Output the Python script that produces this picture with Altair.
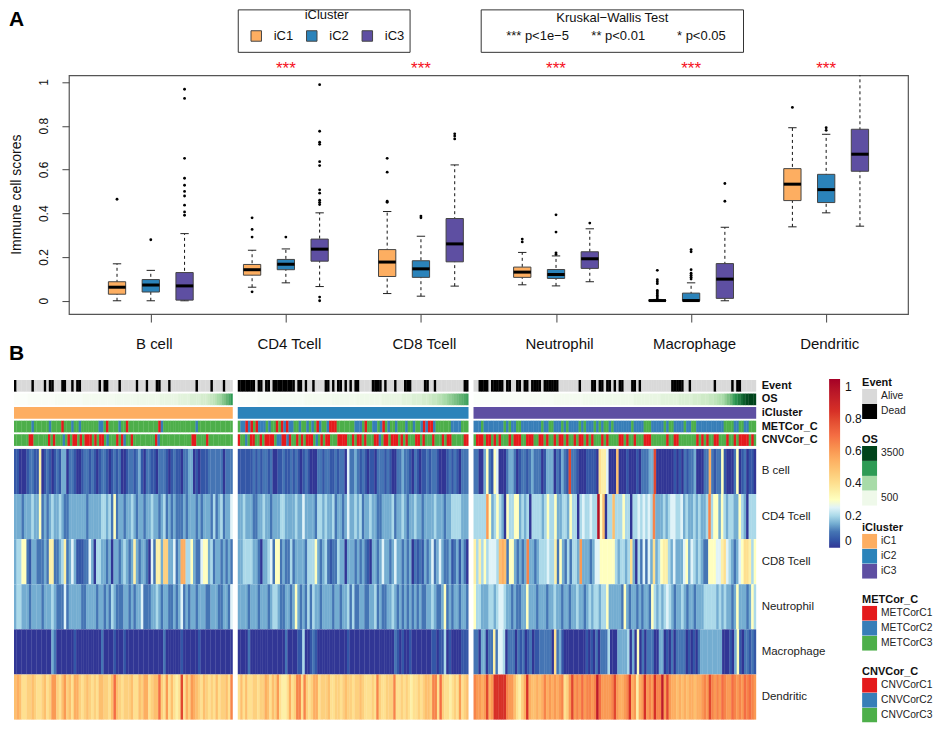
import altair as alt
import pandas as pd

FONT = "Liberation Sans"
CELLS = ["B cell", "CD4 Tcell", "CD8 Tcell", "Neutrophil", "Macrophage", "Dendritic"]
CLUSTERS = ["iC1", "iC2", "iC3"]
CLUSTER_COLORS = ["#fdae61", "#2b83ba", "#5e4fa2"]
SIGNIF = ["", "***", "***", "***", "***", "***"]

# whisker low, q1, median, q3, whisker high per cell type (rows) and cluster
BOX_LO = [[0, 0, 0], [.062, .082, .065], [.033, .021, .067], [.073, .068, .087], [0, 0, 0], [.338, .402, .341]]
BOX_Q1 = [[.03, .04, .003], [.117, .142, .181], [.111, .107, .178], [.107, .102, .148], [0, 0, .011], [.458, .449, .592]]
BOX_MED = [[.062, .072, .068], [.142, .167, .236], [.177, .146, .26], [.131, .12, .192], [.001, .001, .099], [.533, .508, .67]]
BOX_Q3 = [[.087, .097, .129], [.166, .189, .282], [.234, .183, .376], [.154, .143, .224], [.003, .035, .17], [.604, .578, .784]]
BOX_HI = [[.169, .139, .307], [.231, .237, .402], [.408, .295, .621], [.221, .205, .329], [.006, .082, .336], [.791, .761, 1.1]]
OUTLIERS = [
    [[.464], [.279], [.967, .925, .651, .56, .528, .5, .479, .437, .406, .391]],
    [[.379, .326, .291, .041], [.291], [.988, .775, .725, .715, .636, .618, .507, .492, .46, .45, .44, .017, 0]],
    [[.651, .588, .455, .45], [.387, .379], [.763, .753, .74]],
    [[.282, .269], [.393, .314, .219, .212], [.355]],
    [[.139, .096, .087, .078, .047, .04, .032, .024, .017, .009], [.234, .224, .142, .126, .117, .108, .099], [.536, .455]],
    [[.884], [.791, .779], []],
]

TRACKS = ["Event", "OS", "iCluster", "METCor_C", "CNVCor_C"]
# 1 = dead, 0 = alive
EVENT = [
    "1 000000 1 0000 1 0 11 000 11 00 1 0 11 0000000 1 0 11 0000 1 000000 1 000 1 000 11 000 1 0000000000 1 00000 1 0000 1 000",
    "1111111 0 11 0 11 0 111111111 0 11 0 1 00 1 0000 11 0 1 0 11 0 1 0 1 0 11 00000 1111 0 1 00 0 1 000 111 00000 11 00 1 0000000000 0 11",
    "00 1111 0 11111 0 11 00 11 0 11 0 1111 0 111111 00000000 1 0000 11 0 11 0 11 0 1 0 11 000 11 0 1 000000000000 11111 00 1 000000000 1 000000 1 0 11 000000",
]
# OS in hundreds of days, base 36
OS = [
    "0000001111 1111111122 2222222222 3333333333 3333444444 4444555555 5555666666 6677777888 88999abcdfgijlnp",
    "0000000011 1111111222 2222222333 3333333344 4444444455 5555555566 6666667777 8888999abb cdefghijkl mno",
    "0000000000 1111111111 1222222222 3333333333 3444444444 4555555555 6666666666 7777777888 88999aaabb cdefhjloqs uwy zzz",
]
MET = [
    "ggggggg b gggggg b gggg r ggg b gg b ggggggg bb g r gggg b gg r gggggggggggg rb ggggggggggggg b gggggggggggggg",
    "gbbrbrgrbb bgbggrgrbr bbggbggbgb grbggbrrrg ggggggbbbg rggbbgbrgb ggbgggbggb ggbrbrrbggg gggbbbbggg",
    "bbb g bbbbbbbb g b g bb gg bbbbbbbb g bb gg bbb g b g bbbb g b g bbb g b g b gg b g bbbbbbb g bbbb ggg bbbbb g b gg bbbb g bb gg bbbbbbbbbbb gggg bb gg bb ggg",
]
CNV = [
    "gggggg rr gggggg r g r ggg b g r g rr g r g rrr g r g rr g b ggg r g r b gg r ggggggggg r b ggggggggggggg rr gggg r gggggggggg",
    "r gg b g rr gg r g rrrr gb b r r b r gg r g r g rrr gb g r g rr ggg rrrr gg r g rr g r ggg rr b g rr g rrr g r g r ggg rr g r ggg r ggg r g rr ggggg rr",
    "g rrr g rr g r g r ggg r g rrr gg rrr gg rr g r gg r g rr g r gg r g rr g r g r ggg r g r gggg rr g r gg r ggg rrr gggggg r gg rr ggggggg r g r g r gg rr ggg r gg r g rrrr g r g",
]

HEAT_ROWS = ["B cell", "CD4 Tcell", "CD8 Tcell", "Neutrophil", "Macrophage", "Dendritic"]
# each character is one patient column: base-36 level, 1 level = 0.05 score
BLOCK1 = [
    "1100012211 7012101213 3022100122 1210122101 2120012212 3102211022 2101211022 3301011122 22220222",
    "3332333433 6232343343 2233333332 3333344342 6233233432 3323343323 4232322232 3332323332 42342335",
    "3446621332 2232772234 7235311122 5304433230 3323432373 2332052773 9933523bb4 4632256634 23323232",
    "3443332333 3233343222 5233333223 3332332324 3222332323 3522233432 3322323523 2332333223 33223325",
    "0000000000 0000032000 0000100000 0000020000 1000100000 0000000000 2000000100 0000100000 00000000",
    "aba8899a98 89a89cc98a c9a8bb989a 9898aa998a ea98999a88 a9bb89aae9 8c8a878g8b 9cba98a989 8a899a8d",
]
BLOCK2 = [
    "1111112121 2212001121 1212101210 0022122112 1220522321 2101102221 2100223221 0210112122 1000121210 222",
    "3343332233 4332333443 3334335333 3244343342 3323533434 2334332233 3342334323 3433233334 3332334444 333",
    "3344443320 3345266232 2423333244 4632342122 4330333232 3210332353 3235332323 0212132352 3532231231 320",
    "3333233323 3323443223 3236323242 4332333323 3233424223 3223342322 3343232323 2323223343 2236232332 332",
    "0000200000 0000000002 0000114001 2100000000 0000100000 0000000000 0002101001 0000000011 0114010000 111",
    "8a8a889989 9ba8a9c877 8b89dd8d98 9bb8999a88 9989a99899 a988898d98 8999d88989 8788989aa9 dd8e98878 98c 89a",
]
BLOCK3 = [
    "2200362165 0002332012 2123222013 3302132 1g2 2100011110 8775000a00 0100010222 33g0000000 1010212230 0022b21 2 26 1000260120 110",
    "4444 4c6346 4306446634 3404444 3 46 4463 3 44 3 6 4404 54 4544 k6a044 a444 64404 4545 4 5 4d3 3343 4 5 544 5 3 4 3 3 4 3 4 3 3 4 d 4 6 6 3 6 4 3 4 4 3 3 6 4 3 0 444",
    "7474645554 aba2663232 3d33234445 4472632424 43c3332355 6666664344 3483042 52 5383467743 533356 3543 4 322 6665 57 8 54 32 356 88 746",
    "6443334434 5543323223 3633323332 3343323323 3433234344 3446333332 6323323233 2643434543 2334323323 3344444343 4332363332 364",
    "2203302272 5540222021 2012011222 2 2082 31 00 00 00 0 0 0 1 0 1 0 2 0 2 2 2 4 0 0 0 3 3 3 3 4 0 3 0 6 0 2 0 2 2 2 0 0 3 3 0 1 0 2 0 2 2 2 2 0 1 0 1 0 2 3 3 3 3 3 3 3 3 3 0 0 0 1 0 3 6 1 0 2 2 1 2 1",
    "dccbcgbc hhhhh dcca879 bhbaababdb cbcbcd89cg cdcecddcdj ecccc dgcbb cdhbc7bchc dchddjcgcb babababbab bcdcgdcdce dccedcdced edc",
]
BLOCK_COLS = [91.25, 96.25, 117.9]
BLOCK_GAP = 2.08
TOTAL_COLS = sum(BLOCK_COLS) + 2 * BLOCK_GAP

HEAT_STOPS = [0, .1, .15, .2, .25, .3, .4, .55, .7, .85, 1.05]
HEAT_COLORS = ["#313695", "#4575b4", "#74add1", "#abd9e9", "#e0f3f8", "#ffffbf", "#fee090", "#fdae61", "#f46d43", "#d73027", "#a50026"]
OS_STOPS = [0, 500, 1500, 2500, 3500]
OS_COLORS = ["#fbfefa", "#eff9ea", "#a8dba8", "#2e9b55", "#00441b"]


def block_start(b):
    return sum(BLOCK_COLS[:b]) + b * BLOCK_GAP


def spans(text, b):
    s = text.replace(" ", "")
    start, cols, n = block_start(b), BLOCK_COLS[b], len(s)
    for i, ch in enumerate(s):
        x0 = start + cols * i / n
        x1 = start + cols * (i + 1) / n
        yield ch, x0, (x1 + 0.12 if i < n - 1 else x1)


def track_df(name, rows, conv):
    recs = []
    for b, text in enumerate(rows):
        for ch, x0, x1 in spans(text, b):
            recs.append({"track": name, "x0": x0, "x1": x1, "v": conv(ch)})
    return pd.DataFrame(recs)


# ---------- panel A ----------
box_recs, out_recs = [], []
for i in range(6):
    for c in range(3):
        pos = i + (c - 1) * 0.25
        box_recs.append({"pos": pos, "l": pos - .064, "r": pos + .064, "cl": pos - .031, "cr": pos + .031,
                         "cluster": CLUSTERS[c], "lo": BOX_LO[i][c], "q1": BOX_Q1[i][c], "med": BOX_MED[i][c],
                         "q3": BOX_Q3[i][c], "hi": BOX_HI[i][c]})
        for v in OUTLIERS[i][c]:
            out_recs.append({"pos": pos, "v": v})
box_df, out_df = pd.DataFrame(box_recs), pd.DataFrame(out_recs)
cat_df = pd.DataFrame({"pos": list(range(6)), "s": SIGNIF})

xs = alt.Scale(domain=[-.606, 5.606], nice=False, zero=False)
ys = alt.Scale(domain=[-.0607, 1.0306], nice=False, zero=False)
label_expr = "[" + ",".join(f"'{c}'" for c in CELLS) + "][datum.value]"

x_axis = alt.Axis(values=list(range(6)), labelExpr=label_expr, tickSize=8, tickColor="#444", domain=False,
                  grid=False, labelFontSize=15, labelPadding=14, labelOffset=3, labelColor="#111",
                  labelOverlap=False, labelFont=FONT, title=None)
y_axis = alt.Axis(values=[0, .2, .4, .6, .8, 1], format="~g", tickSize=7, tickColor="#444", domain=False,
                  grid=False, labelAngle=270, labelAlign="center", labelBaseline="bottom", labelFontSize=12,
                  labelPadding=11, labelColor="#111", title="Immune cell scores", titleFontSize=14,
                  titleFontWeight="normal", titleColor="#111", titleX=-45, titleY=119, titleFont=FONT, labelFont=FONT)


def bx(f):
    return alt.X(f, scale=xs, axis=x_axis)


def by(f):
    return alt.Y(f, scale=ys, axis=y_axis)


whisk = alt.Chart(box_df).mark_rule(strokeDash=[3, 3], color="#111", strokeWidth=1, clip=True).encode(
    x=bx("pos:Q"), y=by("lo:Q"), y2="hi:Q")
cap_lo = alt.Chart(box_df).mark_rule(color="#222", strokeWidth=1).encode(
    x=bx("cl:Q"), x2="cr:Q", y=by("lo:Q"))
cap_hi = alt.Chart(box_df[box_df.hi < 1]).mark_rule(color="#222", strokeWidth=1).encode(
    x=bx("cl:Q"), x2="cr:Q", y=by("hi:Q"))
rects = alt.Chart(box_df).mark_rect(stroke="#444", strokeWidth=1).encode(
    x=bx("l:Q"), x2="r:Q", y=by("q1:Q"), y2="q3:Q",
    fill=alt.Fill("cluster:N", scale=alt.Scale(domain=CLUSTERS, range=CLUSTER_COLORS), title="iCluster",
                  legend=alt.Legend(orient="none", legendX=181, legendY=-66, direction="horizontal", columns=3,
                                    symbolType="square", symbolSize=110, symbolStrokeColor="#444",
                                    symbolStrokeWidth=1, labelFontSize=13, titleFontSize=13,
                                    titleFontWeight="normal", titleAnchor="middle", titlePadding=7, labelOffset=11,
                                    columnPadding=10.6, padding=0, labelColor="#111", titleColor="#111",
                                    labelFont=FONT, titleFont=FONT)))
med = alt.Chart(box_df).mark_rule(color="black", strokeWidth=3).encode(
    x=bx("l:Q"), x2="r:Q", y=by("med:Q"))
pts = alt.Chart(out_df).mark_circle(size=8, color="black", opacity=1).encode(
    x=bx("pos:Q"), y=by("v:Q"))
stars = alt.Chart(cat_df).mark_text(color="#f5101c", fontSize=17, font=FONT, baseline="middle").encode(
    x=bx("pos:Q"), y=alt.value(-6), text="s:N")


def label(s, x, y, size=13, weight="normal", align="left", color="#111", baseline="middle"):
    return alt.Chart(pd.DataFrame({"t": [s]})).mark_text(
        font=FONT, fontSize=size, fontWeight=weight, align=align, baseline=baseline, color=color
    ).encode(x=alt.value(x), y=alt.value(y), text="t:N")


def outline(x, x2, y, y2):
    return alt.Chart(pd.DataFrame({"a": [0]})).mark_rect(fill="white", stroke="#333", strokeWidth=1).encode(
        x=alt.value(x), x2=alt.value(x2), y=alt.value(y), y2=alt.value(y2))


header = [
    outline(169.5, 341.5, -65.5, -23),
    outline(412.7, 675.3, -65.5, -23),
    label("A", -60, -66, 21, "bold", color="black", baseline="top"),
    label("Kruskal\u2212Wallis Test", 544, -57, 13, align="center"),
    label("*** p<1e\u22125", 437.7, -39),
    label("** p<0.01", 523, -39),
    label("* p<0.05", 608.7, -39),
]
box_panel = alt.layer(*header, whisk, cap_lo, cap_hi, rects, med, pts, stars).properties(
    width=840, height=239, view=alt.ViewBackground(stroke="#555", strokeWidth=1.2))

spacer = alt.Chart(pd.DataFrame({"a": [0]})).mark_point(opacity=0).encode(x=alt.value(0)).properties(width=688, height=60)

# ---------- panel B ----------
hx = alt.X("x0:Q", scale=alt.Scale(domain=[0, TOTAL_COLS], range=[-55, 688], nice=False, zero=False), axis=None)
ty = alt.Y("track:N", scale=alt.Scale(domain=TRACKS, paddingInner=.14, paddingOuter=0), title=None,
           axis=alt.Axis(orient="right", ticks=False, domain=False, labelFontSize=11, labelFontWeight="bold",
                         labelPadding=5, labelColor="#111", labelFont=FONT))


def sym_legend(y, **kw):
    return alt.Legend(orient="none", legendX=794, legendY=y, symbolType="square", symbolSize=225,
                      symbolStrokeWidth=0, rowPadding=0, padding=0, titlePadding=1, labelFontSize=10.3,
                      titleFontSize=11, titleFontWeight="bold", labelOffset=4, clipHeight=15, labelColor="#222",
                      titleColor="#111", labelFont=FONT, titleFont=FONT, **kw)


ev_df = track_df("Event", EVENT, lambda c: "Dead" if c == "1" else "Alive")
os_df = track_df("OS", OS, lambda c: int(c, 36) * 100)
ic_df = pd.DataFrame([{"track": "iCluster", "x0": block_start(b), "x1": block_start(b) + BLOCK_COLS[b], "v": CLUSTERS[b]} for b in range(3)])
met_names = {"r": "METCorC1", "b": "METCorC2", "g": "METCorC3"}
cnv_names = {"r": "CNVCorC1", "b": "CNVCorC2", "g": "CNVCorC3"}
met_df = track_df("METCor_C", MET, lambda c: met_names[c])
cnv_df = track_df("CNVCor_C", CNV, lambda c: cnv_names[c])

ev = alt.Chart(ev_df).mark_rect().encode(x=hx, x2="x1:Q", y=ty, color=alt.Color(
    "v:N", title="Event", scale=alt.Scale(domain=["Alive", "Dead"], range=["#d9d9d9", "#000000"]), legend=sym_legend(-3)))
osr = alt.Chart(os_df).mark_rect().encode(x=hx, x2="x1:Q", y=ty, color=alt.Color(
    "v:Q", title="OS", scale=alt.Scale(domain=OS_STOPS, range=OS_COLORS),
    legend=sym_legend(54, type="symbol", values=[3500, 2500, 1500, 500], format="d",
                      labelExpr="datum.value==3500||datum.value==500?datum.label:''")))
icr = alt.Chart(ic_df).mark_rect().encode(x=hx, x2="x1:Q", y=ty, color=alt.Color(
    "v:N", title="iCluster", scale=alt.Scale(domain=CLUSTERS, range=CLUSTER_COLORS), legend=sym_legend(142)))
metr = alt.Chart(met_df).mark_rect().encode(x=hx, x2="x1:Q", y=ty, color=alt.Color(
    "v:N", title="METCor_C", scale=alt.Scale(domain=list(met_names.values()), range=["#e41a1c", "#377eb8", "#4daf4a"]),
    legend=sym_legend(214)))
cnvr = alt.Chart(cnv_df).mark_rect().encode(x=hx, x2="x1:Q", y=ty, color=alt.Color(
    "v:N", title="CNVCor_C", scale=alt.Scale(domain=list(cnv_names.values()), range=["#e41a1c", "#377eb8", "#4daf4a"]),
    legend=sym_legend(286)))
tracks_panel = alt.layer(ev, osr, icr, metr, cnvr, label("B", -60, -26, 21, "bold", color="black")).resolve_scale(
    color="independent").properties(width=688, height=66)

recs = []
for b, rows in enumerate([BLOCK1, BLOCK2, BLOCK3]):
    for name, text in zip(HEAT_ROWS, rows):
        for ch, x0, x1 in spans(text, b):
            recs.append({"row": name, "x0": x0, "x1": x1, "v": int(ch, 36) * .05})
heat_df = pd.DataFrame(recs)
heat_panel = alt.Chart(heat_df).mark_rect().encode(
    x=hx, x2="x1:Q",
    y=alt.Y("row:N", scale=alt.Scale(domain=HEAT_ROWS, paddingInner=0, paddingOuter=0), title=None,
            axis=alt.Axis(orient="right", ticks=False, domain=False, labelFontSize=11.5, labelPadding=5,
                          labelColor="#222", labelFont=FONT)),
    color=alt.Color("v:Q", scale=alt.Scale(domain=HEAT_STOPS, range=HEAT_COLORS), title=None,
                    legend=alt.Legend(orient="none", legendX=761, legendY=-70, gradientLength=169,
                                      gradientThickness=11, gradientStrokeWidth=0, values=[0, .2, .4, .6, .8, 1],
                                      format="~g", labelFontSize=12, labelOffset=5, padding=0, labelColor="#111",
                                      labelFont=FONT)),
).properties(width=688, height=271)

chart = alt.vconcat(box_panel, spacer, tracks_panel, heat_panel, spacing=3, bounds="flush").resolve_scale(
    color="independent", fill="independent").properties(padding=0, background="white").configure_view(stroke=None)

chart.save("out.html", embed_options={"renderer": "svg", "actions": False})
